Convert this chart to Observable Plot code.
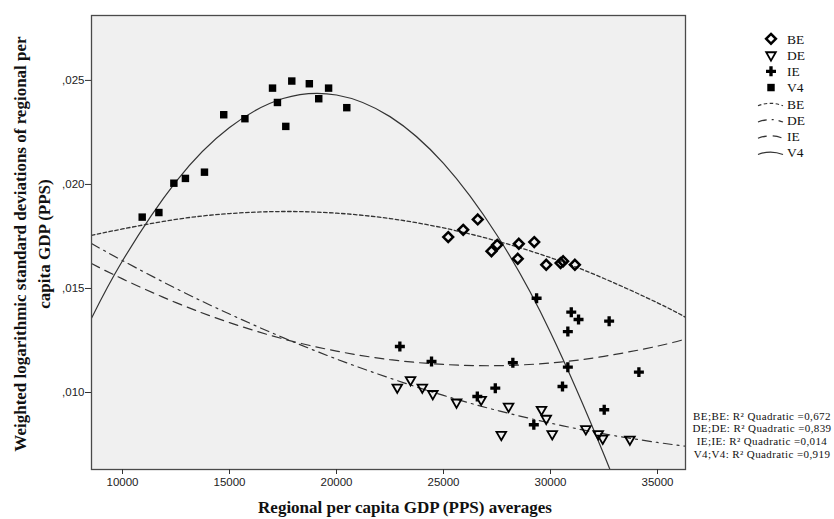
<!DOCTYPE html>
<html>
<head>
<meta charset="utf-8">
<script src="https://cdn.jsdelivr.net/npm/d3@7"></script>
<script src="https://cdn.jsdelivr.net/npm/@observablehq/plot@0.6"></script>
<style>
  html, body { margin: 0; padding: 0; background: #fff; }
  #wrap { position: relative; width: 834px; height: 519px; }
  #overlay { position: absolute; left: 0; top: 0; pointer-events: none; }
</style>
</head>
<body>
<div id="wrap"><div id="chart"></div></div>
<script>
// ---- Data ----
const xTicks = [10000, 15000, 20000, 25000, 30000, 35000];
const yTicks = [0.010, 0.015, 0.020, 0.025];

const v4X = [10920, 11700, 12400, 12940, 13830, 14730, 15720, 17010, 17240, 17630, 17910, 18730, 19170, 19630, 20480];
const v4Y = [0.01843, 0.01865, 0.02006, 0.02029, 0.02059, 0.02335, 0.02316, 0.02463, 0.02394, 0.02279, 0.02497, 0.02484, 0.02412, 0.02463, 0.02369];

const beX = [25220, 25920, 26600, 27240, 27510, 28520, 28470, 29240, 29800, 30470, 30590, 31140];
const beY = [0.01747, 0.01782, 0.01832, 0.01679, 0.01710, 0.01715, 0.01643, 0.01723, 0.01614, 0.01622, 0.01631, 0.01614];

const ieX = [22960, 24440, 28240, 27420, 26580, 29350, 30970, 31310, 30810, 32740, 30810, 30560, 34130, 32510, 29220];
const ieY = [0.01221, 0.01149, 0.01143, 0.01021, 0.00981, 0.01453, 0.01386, 0.01351, 0.01293, 0.01343, 0.01122, 0.01029, 0.01098, 0.00917, 0.00845];

const deX = [22840, 23460, 24010, 24500, 25610, 26760, 28040, 27700, 29580, 29800, 30080, 31650, 32230, 32440, 33710];
const deY = [0.01025, 0.01061, 0.01025, 0.00994, 0.00953, 0.00966, 0.00933, 0.00797, 0.00918, 0.00875, 0.00801, 0.00825, 0.00801, 0.00779, 0.00775];

// Quadratic fit lines
const fitX   = [8551, 10000, 12500, 15000, 17500, 20000, 22500, 25000, 27500, 30000, 32500, 35000, 36308];
const fitBE  = [0.01755, 0.01786, 0.01832, 0.01860, 0.01870, 0.01862, 0.01836, 0.01791, 0.01728, 0.01648, 0.01548, 0.01431, 0.01362];
const fitDE  = [0.01716, 0.01634, 0.01500, 0.01377, 0.01264, 0.01161, 0.01069, 0.00986, 0.00914, 0.00853, 0.00801, 0.00760, 0.00742];
const fitIE  = [0.01620, 0.01546, 0.01432, 0.01336, 0.01258, 0.01199, 0.01158, 0.01135, 0.01129, 0.01142, 0.01174, 0.01223, 0.01257];
const fitV4X = [8551, 10000, 12500, 15000, 17500, 20000, 22500, 25000, 27500, 30000, 32500, 33500];
const fitV4  = [0.01357, 0.01633, 0.02014, 0.02274, 0.02413, 0.02430, 0.02326, 0.02101, 0.01756, 0.01289, 0.00701, 0.00430];

const groups = ["BE", "DE", "IE", "V4"];
const r2Values = ["0,672", "0,839", "0,014", "0,919"];

// ---- Build tables ----
const pts = (xs, ys) => xs.map((x, i) => ({x, y: ys[i]}));
const v4 = pts(v4X, v4Y), be = pts(beX, beY), ie = pts(ieX, ieY), de = pts(deX, deY);
const lineBE = pts(fitX, fitBE), lineDE = pts(fitX, fitDE), lineIE = pts(fitX, fitIE), lineV4 = pts(fitV4X, fitV4);

const triDown = {
  draw(context, size) {
    const s = Math.sqrt(size) * 0.6824, t = s / 2, u = s * Math.sqrt(3) / 2;
    context.moveTo(0, s); context.lineTo(u, -t); context.lineTo(-u, -t); context.closePath();
  }
};

const lineColor = "#333";
const dashes = {BE: "3.5,2.5", DE: "9,5,2,5", IE: "9,6", V4: null};

const chart = Plot.plot({
  width: 834, height: 519,
  marginLeft: 91, marginRight: 149, marginTop: 15, marginBottom: 50,
  style: {fontFamily: "'Liberation Sans', Arial, sans-serif", fontSize: "11.5px", background: "transparent", color: "#222"},
  x: {domain: [8551, 36308]},
  y: {domain: [0.0063, 0.02812]},
  marks: [
    Plot.frame({fill: "#f0f0f0", stroke: null}),
    Plot.line(lineBE, {x: "x", y: "y", stroke: lineColor, strokeWidth: 1.3, strokeDasharray: dashes.BE, curve: "natural", clip: true}),
    Plot.line(lineDE, {x: "x", y: "y", stroke: lineColor, strokeWidth: 1.2, strokeDasharray: dashes.DE, curve: "natural", clip: true}),
    Plot.line(lineIE, {x: "x", y: "y", stroke: lineColor, strokeWidth: 1.2, strokeDasharray: dashes.IE, curve: "natural", clip: true}),
    Plot.line(lineV4, {x: "x", y: "y", stroke: lineColor, strokeWidth: 1.2, curve: "natural", clip: true}),
    Plot.dot(v4, {x: "x", y: "y", symbol: "square", r: 4.2, fill: "#000", stroke: null}),
    Plot.dot(be, {x: "x", y: "y", symbol: "diamond2", r: 4.4, fill: "none", stroke: "#000", strokeWidth: 2.5}),
    Plot.dot(de, {x: "x", y: "y", symbol: triDown, r: 4.6, fill: "none", stroke: "#000", strokeWidth: 1.8}),
    Plot.dot(ie, {x: "x", y: "y", symbol: "cross", r: 4.2, fill: "#000", stroke: null}),
    Plot.frame({stroke: "#4a4a4a", strokeWidth: 1.3}),
    Plot.axisX({ticks: xTicks, tickFormat: d => String(d), tickSize: 5, tickPadding: 3, label: null, stroke: "#333"}),
    Plot.axisY({ticks: yTicks, tickFormat: d => "," + d.toFixed(3).split(".")[1], tickSize: 6, tickPadding: 1, label: null, stroke: "#333"})
  ]
});
document.getElementById("chart").append(chart);

// ---- Overlay: axis titles, legend, R² notes ----
const svg = d3.select("#wrap").append("svg")
  .attr("id", "overlay").attr("width", 834).attr("height", 519);
const serif = "'Liberation Serif', 'Times New Roman', serif";

svg.append("text")
  .attr("transform", "translate(20,244) rotate(-90)")
  .attr("text-anchor", "middle").attr("dy", "0.35em")
  .attr("font-family", serif).attr("font-weight", "bold").attr("font-size", 17).attr("fill", "#111")
  .text("Weighted logarithmic standard deviations of regional per");
svg.append("text")
  .attr("transform", "translate(44,244) rotate(-90)")
  .attr("text-anchor", "middle").attr("dy", "0.35em")
  .attr("font-family", serif).attr("font-weight", "bold").attr("font-size", 17).attr("fill", "#111")
  .text("capita GDP (PPS)");
svg.append("text")
  .attr("x", 405).attr("y", 507).attr("dy", "0.35em")
  .attr("text-anchor", "middle")
  .attr("font-family", serif).attr("font-weight", "bold").attr("font-size", 17).attr("fill", "#111")
  .text("Regional per capita GDP (PPS) averages");

// Legend
const legSyms = {
  BE: {type: d3.symbolDiamond2, size: Math.PI * 4.4 * 4.4, fill: "none", stroke: "#000", sw: 2.5},
  DE: {type: triDown, size: Math.PI * 4.6 * 4.6, fill: "none", stroke: "#000", sw: 1.8},
  IE: {type: d3.symbolCross, size: Math.PI * 4.2 * 4.2, fill: "#000", stroke: "none", sw: 0},
  V4: {type: d3.symbolSquare, size: Math.PI * 4.2 * 4.2, fill: "#000", stroke: "none", sw: 0}
};
const y0 = 38.8, step = 16.25;
groups.forEach((g, i) => {
  const y = y0 + i * step;
  const s = legSyms[g];
  svg.append("path").attr("transform", `translate(771,${y})`)
    .attr("d", d3.symbol(s.type, s.size)())
    .attr("fill", s.fill).attr("stroke", s.stroke).attr("stroke-width", s.sw);
  svg.append("text").attr("x", 787).attr("y", y).attr("dy", "0.35em")
    .attr("font-family", serif).attr("font-size", 13.5).attr("fill", "#111").text(g);
});
groups.forEach((g, i) => {
  const y = y0 + (i + 4) * step;
  const p = svg.append("path")
    .attr("d", `M758,${y + 2} Q770.5,${y - 3} 783,${y + 2}`)
    .attr("fill", "none").attr("stroke", lineColor).attr("stroke-width", 1.2);
  if (dashes[g]) p.attr("stroke-dasharray", dashes[g]);
  svg.append("text").attr("x", 787).attr("y", y).attr("dy", "0.35em")
    .attr("font-family", serif).attr("font-size", 13.5).attr("fill", "#111").text(g);
});

// R² annotations
groups.forEach((g, i) => {
  svg.append("text").attr("x", 762).attr("y", 416 + i * 12.6).attr("dy", "0.35em")
    .attr("text-anchor", "middle")
    .attr("font-family", serif).attr("font-size", 11).attr("letter-spacing", 0.4).attr("fill", "#111")
    .text(`${g};${g}: R² Quadratic =${r2Values[i]}`);
});
</script>
</body>
</html>
